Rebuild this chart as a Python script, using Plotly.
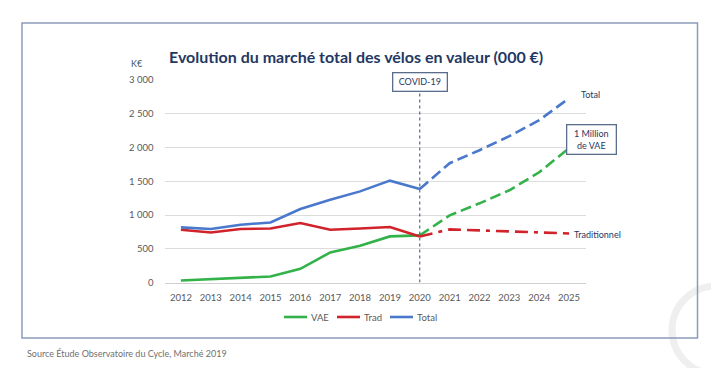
import plotly.graph_objects as go

years_hist = [2012, 2013, 2014, 2015, 2016, 2017, 2018, 2019, 2020]
vae_hist = [30, 50, 74, 89, 203, 445, 545, 683, 698]
trad_hist = [782, 742, 792, 801, 881, 782, 801, 822, 683]
total_hist = [816, 792, 856, 890, 1089, 1227, 1350, 1509, 1386]

years_proj = [2020, 2021, 2022, 2023, 2024, 2025]
vae_proj = [698, 995, 1173, 1366, 1633, 1990]
trad_proj = [683, 787, 772, 760, 742, 727]
total_proj = [1386, 1767, 1960, 2168, 2405, 2730]

series_names = ["VAE", "Trad", "Total"]

y_ticks = [0, 500, 1000, 1500, 2000, 2500, 3000]
y_tick_labels = ["0", "500", "1 000", "1 500", "2 000", "2 500", "3 000"]
x_ticks = list(range(2012, 2026))

GREEN = "#33B24A"
RED = "#D0232B"
BLUE = "#4A78CC"
NAVY = "#1F3864"
FONT = "Lato"
colors = [GREEN, RED, BLUE]

# page body has an 8px margin: figure sized so it fits in the 719x368 window
OFF = 8
W, H = 719 - OFF, 368 - OFF
def px(x):
    return (x - OFF) / W
def py(y):
    return 1 - (y - OFF) / H

fig = go.Figure()
for name, yv, col in zip(series_names, [vae_hist, trad_hist, total_hist], colors):
    fig.add_trace(go.Scatter(x=years_hist, y=yv, mode="lines", name=name,
                             line=dict(color=col, width=2.6), showlegend=False))
fig.add_trace(go.Scatter(x=years_proj, y=vae_proj, mode="lines", showlegend=False,
                         line=dict(color=GREEN, width=2.6, dash="11px,5px")))
fig.add_trace(go.Scatter(x=years_proj, y=trad_proj, mode="lines", showlegend=False,
                         line=dict(color=RED, width=2.6, dash="13px,6px,4px,6px,13px,6px")))
fig.add_trace(go.Scatter(x=years_proj, y=total_proj, mode="lines", showlegend=False,
                         line=dict(color=BLUE, width=2.6, dash="11px,5px")))

# decorative arc and frame
fig.add_shape(type="circle", xref="paper", yref="paper",
              x0=px(672), x1=px(760), y0=py(374), y1=py(286),
              line=dict(color="#EFEFEF", width=7), layer="below")
fig.add_shape(type="rect", xref="paper", yref="paper",
              x0=px(22), x1=px(697.5), y0=py(338), y1=py(23),
              line=dict(color="#8A9CB8", width=1.5))
# COVID line
fig.add_shape(type="line", xref="x", yref="y", x0=2020, x1=2020, y0=0, y1=2820,
              line=dict(color="#2F4A7A", width=1, dash="dot"))

def label(x, y, text, size=9, color=NAVY, **kw):
    fig.add_annotation(xref="paper", yref="paper", x=px(x), y=py(y), text=text,
                       showarrow=False, xanchor=kw.pop("xanchor", "center"),
                       yanchor="middle", font=dict(family=FONT, size=size, color=color), **kw)

label(356, 57, "<b>Evolution du marché total des vélos en valeur (000 €)</b>", size=16)
label(137, 63, "K€", size=9, color="#44546A")
label(420, 82, "COVID-19", bordercolor="#5A6E8C", borderwidth=1.3, borderpad=3,
      bgcolor="white", width=47)
label(590, 94, "Total")
label(591, 139, "1 Million<br>de VAE", bordercolor="#5A6E8C", borderwidth=1.3,
      borderpad=3, bgcolor="white", width=42)
label(597, 234, "Traditionnel")
label(25, 353, "Source Étude Observatoire du Cycle, Marché 2019", color="#707070",
      xanchor="left")

# custom legend (compact, as in the reference)
leg_x = [284, 337, 390]
for lx, name, col in zip(leg_x, series_names, colors):
    fig.add_shape(type="line", xref="paper", yref="paper", x0=px(lx), x1=px(lx + 23),
                  y0=py(317), y1=py(317), line=dict(color=col, width=2.6))
    label(lx + 25, 317, name, size=9.5, color="#595959", xanchor="left")

fig.update_layout(
    width=W, height=H,
    margin=dict(l=0, r=0, t=0, b=0),
    paper_bgcolor="white", plot_bgcolor="white",
    font=dict(family=FONT, size=10, color="#595959"),
    xaxis=dict(domain=[px(164.5), px(585.5)], range=[2011.45, 2025.55],
               tickvals=x_ticks, ticktext=[str(v) for v in x_ticks],
               showgrid=False, zeroline=False, showline=True, linecolor="#D0D0D0",
               linewidth=1, ticks="", ticklabelstandoff=6, automargin=False,
               tickfont=dict(size=9.5, color="#595959")),
    yaxis=dict(domain=[py(282.5), py(80)], range=[0, 3000],
               tickvals=y_ticks, ticktext=y_tick_labels,
               showgrid=True, gridcolor="#DCDCDC", gridwidth=1, zeroline=False,
               showline=False, ticks="", ticklabelstandoff=10, automargin=False,
               tickfont=dict(size=9.5, color="#595959")),
    showlegend=False,
)

fig.write_html("out.html")
